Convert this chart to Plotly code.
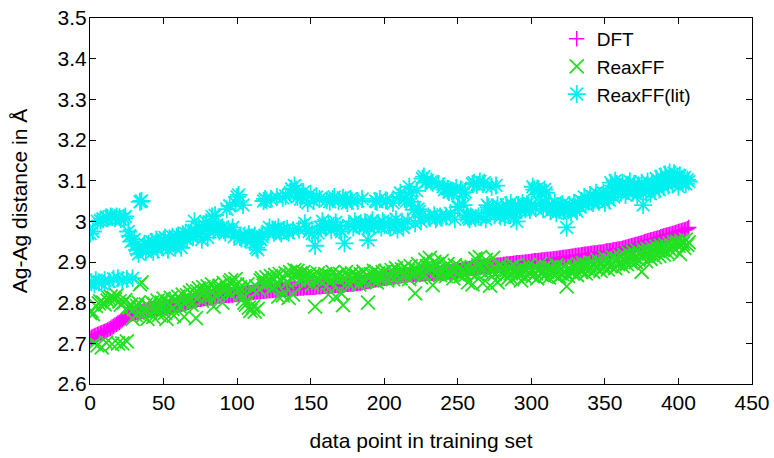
import plotly.graph_objects as go

dft = [
2.712, 2.715, 2.717, 2.718, 2.720, 2.722, 2.723, 2.725, 2.726, 2.728, 2.729, 2.731, 2.733, 2.735, 2.737, 2.740, 2.742, 2.745, 2.747, 2.750,
2.752, 2.755, 2.758, 2.761, 2.764, 2.767, 2.769, 2.771, 2.772, 2.773, 2.774, 2.775, 2.776, 2.777, 2.778, 2.778, 2.779, 2.780, 2.781, 2.782,
2.782, 2.783, 2.783, 2.784, 2.784, 2.785, 2.785, 2.786, 2.786, 2.787, 2.787, 2.788, 2.789, 2.790, 2.790, 2.791, 2.792, 2.793, 2.793, 2.794,
2.795, 2.795, 2.796, 2.797, 2.798, 2.799, 2.800, 2.801, 2.802, 2.803, 2.804, 2.805, 2.806, 2.807, 2.808, 2.808, 2.809, 2.810, 2.810, 2.811,
2.811, 2.812, 2.812, 2.813, 2.814, 2.815, 2.815, 2.816, 2.816, 2.817, 2.817, 2.817, 2.818, 2.818, 2.818, 2.819, 2.819, 2.819, 2.820, 2.820,
2.820, 2.821, 2.821, 2.822, 2.822, 2.822, 2.823, 2.823, 2.824, 2.824, 2.825, 2.825, 2.826, 2.826, 2.827, 2.827, 2.827, 2.828, 2.828, 2.828,
2.829, 2.829, 2.829, 2.830, 2.830, 2.830, 2.831, 2.831, 2.831, 2.832, 2.832, 2.832, 2.833, 2.833, 2.833, 2.834, 2.834, 2.834, 2.835, 2.835,
2.835, 2.835, 2.836, 2.836, 2.836, 2.836, 2.837, 2.837, 2.837, 2.837, 2.838, 2.838, 2.838, 2.838, 2.839, 2.839, 2.839, 2.839, 2.840, 2.840,
2.840, 2.840, 2.841, 2.841, 2.841, 2.842, 2.842, 2.842, 2.843, 2.843, 2.843, 2.844, 2.844, 2.844, 2.845, 2.845, 2.845, 2.846, 2.846, 2.846,
2.847, 2.847, 2.847, 2.848, 2.848, 2.849, 2.850, 2.851, 2.852, 2.852, 2.853, 2.854, 2.855, 2.855, 2.856, 2.857, 2.857, 2.858, 2.859, 2.860,
2.860, 2.861, 2.861, 2.862, 2.862, 2.863, 2.863, 2.864, 2.864, 2.865, 2.865, 2.866, 2.866, 2.867, 2.867, 2.868, 2.868, 2.869, 2.869, 2.870,
2.870, 2.870, 2.870, 2.871, 2.871, 2.871, 2.871, 2.871, 2.872, 2.872, 2.872, 2.872, 2.872, 2.872, 2.873, 2.873, 2.873, 2.873, 2.873, 2.873,
2.874, 2.874, 2.875, 2.875, 2.876, 2.876, 2.877, 2.877, 2.878, 2.878, 2.879, 2.879, 2.880, 2.880, 2.881, 2.882, 2.882, 2.883, 2.884, 2.884,
2.885, 2.885, 2.886, 2.886, 2.887, 2.887, 2.888, 2.888, 2.888, 2.889, 2.889, 2.889, 2.890, 2.890, 2.891, 2.891, 2.892, 2.892, 2.893, 2.893,
2.893, 2.894, 2.894, 2.895, 2.895, 2.895, 2.896, 2.896, 2.897, 2.897, 2.898, 2.898, 2.898, 2.899, 2.899, 2.899, 2.900, 2.900, 2.901, 2.901,
2.902, 2.902, 2.903, 2.903, 2.903, 2.904, 2.904, 2.905, 2.905, 2.905, 2.906, 2.906, 2.907, 2.907, 2.907, 2.908, 2.908, 2.909, 2.909, 2.910,
2.910, 2.911, 2.911, 2.912, 2.912, 2.913, 2.913, 2.914, 2.914, 2.915, 2.916, 2.916, 2.917, 2.917, 2.918, 2.918, 2.919, 2.919, 2.920, 2.920,
2.921, 2.921, 2.922, 2.922, 2.923, 2.923, 2.924, 2.924, 2.925, 2.925, 2.926, 2.927, 2.927, 2.928, 2.928, 2.929, 2.930, 2.930, 2.931, 2.932,
2.932, 2.933, 2.934, 2.935, 2.936, 2.937, 2.938, 2.939, 2.940, 2.941, 2.942, 2.943, 2.944, 2.945, 2.946, 2.947, 2.948, 2.950, 2.951, 2.952,
2.953, 2.954, 2.955, 2.956, 2.957, 2.958, 2.959, 2.960, 2.962, 2.963, 2.964, 2.965, 2.966, 2.967, 2.968, 2.969, 2.970, 2.971, 2.972, 2.974,
2.975, 2.976, 2.977, 2.978, 2.979, 2.980, 2.982, 2.985,
]

reaxff = [
2.775, 2.780, 2.772, 2.700, 2.792, 2.695, 2.798, 2.803, 2.690, 2.800, 2.796, 2.702, 2.805, 2.810, 2.815, 2.698, 2.812, 2.808, 2.818, 2.700,
2.803, 2.795, 2.700, 2.801, 2.806, 2.705, 2.790, 2.788, 2.795, 2.760, 2.785, 2.770, 2.792, 2.800, 2.845, 2.850, 2.768, 2.780, 2.795, 2.760,
2.790, 2.775, 2.800, 2.765, 2.795, 2.782, 2.805, 2.770, 2.790, 2.800, 2.810, 2.775, 2.760, 2.802, 2.795, 2.812, 2.785, 2.768, 2.808, 2.798,
2.815, 2.790, 2.805, 2.820, 2.765, 2.800, 2.818, 2.810, 2.825, 2.795, 2.830, 2.815, 2.762, 2.828, 2.835, 2.820, 2.805, 2.838, 2.825, 2.815,
2.840, 2.820, 2.828, 2.845, 2.790, 2.835, 2.815, 2.825, 2.842, 2.830, 2.800, 2.848, 2.830, 2.836, 2.825, 2.850, 2.855, 2.832, 2.840, 2.858,
2.845, 2.830, 2.838, 2.820, 2.810, 2.800, 2.795, 2.845, 2.788, 2.780, 2.835, 2.790, 2.778, 2.840, 2.785, 2.832, 2.855, 2.860, 2.842, 2.850,
2.862, 2.848, 2.855, 2.865, 2.838, 2.858, 2.868, 2.845, 2.815, 2.870, 2.855, 2.818, 2.860, 2.872, 2.850, 2.812, 2.875, 2.862, 2.820, 2.880,
2.868, 2.878, 2.855, 2.872, 2.860, 2.875, 2.865, 2.850, 2.858, 2.870, 2.862, 2.845, 2.868, 2.790, 2.860, 2.872, 2.855, 2.866, 2.850, 2.862,
2.870, 2.858, 2.820, 2.866, 2.852, 2.875, 2.862, 2.815, 2.868, 2.856, 2.870, 2.822, 2.794, 2.862, 2.875, 2.850, 2.866, 2.858, 2.872, 2.860,
2.855, 2.868, 2.862, 2.845, 2.870, 2.858, 2.876, 2.852, 2.866, 2.800, 2.862, 2.870, 2.855, 2.878, 2.866, 2.850, 2.872, 2.860, 2.868, 2.875,
2.862, 2.878, 2.855, 2.870, 2.865, 2.880, 2.858, 2.872, 2.885, 2.866, 2.875, 2.860, 2.882, 2.870, 2.888, 2.865, 2.878, 2.858, 2.890, 2.872,
2.868, 2.823, 2.880, 2.895, 2.875, 2.862, 2.885, 2.870, 2.905, 2.890, 2.878, 2.910, 2.885, 2.843, 2.900, 2.872, 2.895, 2.882, 2.868, 2.902,
2.878, 2.888, 2.865, 2.895, 2.875, 2.870, 2.885, 2.860, 2.892, 2.878, 2.870, 2.888, 2.865, 2.882, 2.875, 2.868, 2.890, 2.850, 2.880, 2.872,
2.845, 2.885, 2.908, 2.870, 2.892, 2.912, 2.878, 2.848, 2.895, 2.905, 2.875, 2.888, 2.842, 2.880, 2.910, 2.870, 2.885, 2.850, 2.878, 2.892,
2.875, 2.888, 2.868, 2.880, 2.860, 2.885, 2.872, 2.858, 2.890, 2.878, 2.865, 2.882, 2.870, 2.855, 2.886, 2.875, 2.862, 2.880, 2.892, 2.870,
2.878, 2.865, 2.888, 2.872, 2.860, 2.882, 2.895, 2.870, 2.878, 2.866, 2.890, 2.875, 2.862, 2.885, 2.872, 2.880, 2.868, 2.892, 2.876, 2.864,
2.882, 2.870, 2.888, 2.876, 2.840, 2.866, 2.885, 2.878, 2.872, 2.890, 2.880, 2.868, 2.895, 2.882, 2.875, 2.898, 2.885, 2.872, 2.892, 2.880,
2.900, 2.888, 2.876, 2.895, 2.885, 2.905, 2.890, 2.878, 2.898, 2.886, 2.910, 2.895, 2.882, 2.902, 2.890, 2.912, 2.898, 2.885, 2.908, 2.895,
2.915, 2.900, 2.890, 2.918, 2.905, 2.895, 2.922, 2.910, 2.898, 2.925, 2.912, 2.900, 2.928, 2.905, 2.918, 2.876, 2.930, 2.915, 2.902, 2.932,
2.920, 2.908, 2.935, 2.925, 2.912, 2.938, 2.928, 2.915, 2.940, 2.930, 2.918, 2.942, 2.925, 2.935, 2.945, 2.928, 2.938, 2.948, 2.930, 2.950,
2.940, 2.920, 2.952, 2.945, 2.935, 2.955, 2.942, 2.948,
]

reaxff_lit = [
2.970, 2.850, 2.975, 2.845, 2.855, 3.000, 2.850, 3.002, 2.848, 3.005, 2.855, 3.010, 3.008, 2.852, 3.012, 3.010, 2.858, 3.008, 3.012, 2.860,
3.010, 3.005, 2.855, 3.008, 3.012, 2.858, 2.975, 2.965, 2.950, 2.860, 2.955, 2.940, 2.930, 2.920, 3.048, 3.050, 2.935, 2.945, 2.925, 2.940,
2.945, 2.935, 2.950, 2.925, 2.940, 2.955, 2.930, 2.945, 2.950, 2.938, 2.955, 2.960, 2.942, 2.930, 2.958, 2.950, 2.962, 2.945, 2.935, 2.960,
2.965, 2.952, 2.935, 2.968, 2.960, 2.970, 2.955, 2.972, 2.965, 2.978, 2.962, 3.000, 2.975, 2.968, 2.985, 2.970, 2.955, 2.992, 2.980, 2.998,
2.960, 2.985, 2.995, 3.012, 2.978, 3.015, 2.990, 2.982, 2.975, 2.980, 2.985, 2.978, 2.972, 3.030, 2.980, 3.038, 2.975, 2.985, 2.962, 3.045,
3.060, 3.065, 2.962, 2.958, 3.040, 2.965, 2.955, 2.960, 2.968, 2.952, 2.960, 2.958, 2.965, 2.935, 2.930, 2.960, 2.955, 2.962, 3.050, 3.055,
3.052, 2.975, 2.985, 3.055, 2.980, 2.972, 2.978, 3.060, 2.985, 2.975, 2.970, 3.058, 2.978, 3.062, 2.982, 2.972, 3.070, 3.080, 2.978, 3.088,
3.078, 3.060, 2.980, 3.055, 3.062, 3.072, 2.995, 2.985, 3.045, 2.975, 3.068, 2.970, 3.050, 2.940, 3.060, 2.972, 3.055, 2.985, 3.000, 2.990,
2.985, 3.052, 2.995, 3.048, 2.978, 3.055, 3.060, 2.998, 2.988, 3.050, 2.980, 2.975, 3.058, 2.946, 3.052, 3.045, 2.990, 3.055, 3.050, 2.985,
3.000, 2.992, 3.050, 2.988, 2.995, 3.055, 2.985, 2.998, 2.990, 2.954, 2.985, 2.995, 3.002, 2.988, 3.050, 3.048, 2.992, 3.055, 2.985, 3.000,
2.995, 3.052, 3.050, 2.990, 2.985, 2.998, 3.045, 2.992, 3.005, 2.980, 3.060, 3.070, 2.995, 2.985, 3.055, 3.050, 3.000, 3.085, 3.072, 3.048,
3.028, 2.995, 3.075, 3.030, 3.025, 3.000, 3.105, 3.110, 3.095, 3.100, 3.012, 3.008, 3.098, 3.095, 3.015, 3.005, 3.010, 3.092, 3.012, 3.008,
3.085, 3.078, 3.012, 3.080, 3.072, 3.020, 3.075, 3.070, 3.005, 3.082, 3.035, 3.036, 3.078, 3.070, 3.040, 3.072, 3.015, 3.010, 3.005, 3.012,
3.092, 3.095, 3.008, 3.090, 3.012, 3.098, 3.010, 3.092, 3.095, 3.005, 3.040, 3.035, 3.020, 3.085, 3.030, 3.015, 3.088, 3.040, 3.025, 3.012,
3.035, 3.020, 3.010, 3.040, 3.030, 3.015, 3.045, 3.025, 3.010, 3.035, 3.000, 3.040, 3.032, 3.028, 3.045, 3.038, 3.030, 3.042, 3.035, 3.028,
3.040, 3.085, 3.078, 3.032, 3.080, 3.075, 3.045, 3.072, 3.030, 3.078, 3.070, 3.038, 3.040, 3.025, 3.035, 3.030, 3.045, 3.020, 3.038, 3.028,
3.035, 3.042, 3.025, 3.030, 2.985, 3.028, 3.040, 3.022, 3.035, 3.045, 3.030, 3.025, 3.040, 3.035, 3.050, 3.045, 3.060, 3.042, 3.055, 3.048,
3.065, 3.050, 3.045, 3.058, 3.070, 3.052, 3.048, 3.062, 3.055, 3.070, 3.045, 3.060, 3.068, 3.052, 3.095, 3.088, 3.060, 3.100, 3.092, 3.075,
3.085, 3.070, 3.095, 3.080, 3.065, 3.090, 3.075, 3.098, 3.082, 3.070, 3.092, 3.078, 3.065, 3.088, 3.075, 3.095, 3.040, 3.085, 3.072, 3.098,
3.080, 3.068, 3.092, 3.085, 3.075, 3.105, 3.090, 3.078, 3.110, 3.098, 3.085, 3.115, 3.100, 3.088, 3.120, 3.105, 3.092, 3.118, 3.098, 3.110,
3.085, 3.112, 3.100, 3.095, 3.108, 3.092, 3.102, 3.098,
]

x_ticks = [0, 50, 100, 150, 200, 250, 300, 350, 400, 450]
y_ticks = [2.6, 2.7, 2.8, 2.9, 3.0, 3.1, 3.2, 3.3, 3.4, 3.5]
y_tick_labels = ["2.6", "2.7", "2.8", "2.9", "3", "3.1", "3.2", "3.3", "3.4", "3.5"]

FONT = "Liberation Sans, Arial, sans-serif"
FS = 21

fig = go.Figure()
fig.add_trace(go.Scatter(
    x=list(range(len(dft))), y=dft, mode="markers", name="DFT",
    marker=dict(symbol="cross-thin-open", size=11, color="#ff00ff",
                line=dict(color="#ff00ff", width=1.4)),
))
fig.add_trace(go.Scatter(
    x=list(range(len(reaxff))), y=reaxff, mode="markers", name="ReaxFF",
    marker=dict(symbol="x-thin-open", size=14, color="#22e022",
                line=dict(color="#22e022", width=1.8)),
))
fig.add_trace(go.Scatter(
    x=list(range(len(reaxff_lit))), y=reaxff_lit, mode="markers", name="ReaxFF(lit)",
    marker=dict(symbol="asterisk-open", size=15, color="#00f0f0",
                line=dict(color="#00f0f0", width=1.8)),
))

axis_common = dict(
    showgrid=False, zeroline=False, showline=True, linecolor="black", linewidth=1,
    mirror="ticks", ticks="inside", ticklen=6, tickcolor="black", tickwidth=1,
    tickfont=dict(family=FONT, size=FS, color="black"), automargin=False,
)

fig.update_layout(
    width=774, height=458,
    margin=dict(l=90, r=22, t=18, b=74),
    paper_bgcolor="white", plot_bgcolor="white",
    font=dict(family=FONT, size=FS, color="black"),
    xaxis=dict(range=[0, 450], tickvals=x_ticks,
               title=dict(text="data point in training set", standoff=20,
                          font=dict(family=FONT, size=FS)),
               **axis_common),
    yaxis=dict(range=[2.6, 3.5], tickvals=y_ticks, ticktext=y_tick_labels,
               ticklabelstandoff=-2,
               title=dict(text="Ag-Ag distance in Å", standoff=24,
                          font=dict(family=FONT, size=FS)),
               **axis_common),
    legend=dict(x=0.915, y=0.995, xanchor="right", yanchor="top",
                bgcolor="rgba(0,0,0,0)", font=dict(family=FONT, size=19),
                itemwidth=30, tracegroupgap=0),
    showlegend=True,
)

fig.write_html("out.html")
